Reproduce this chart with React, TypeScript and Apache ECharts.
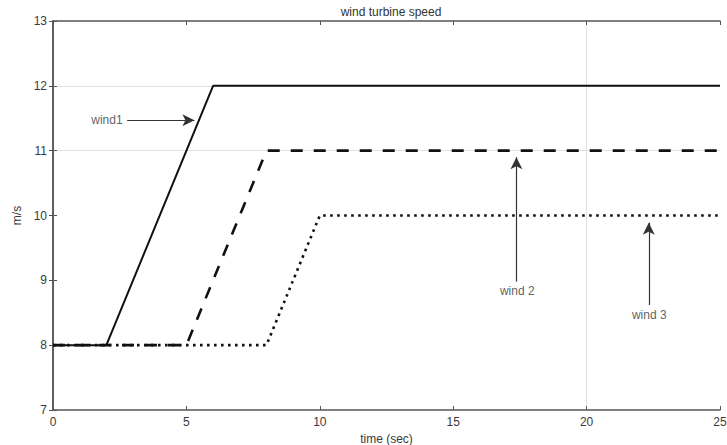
import React, { useEffect, useRef } from "react";
import * as echarts from "echarts";

const xTicks = [0, 5, 10, 15, 20, 25];
const yTicks = [7, 8, 9, 10, 11, 12, 13];

const timeWind1 = [0, 2, 6, 25];
const speedWind1 = [8, 8, 12, 12];
const timeWind2 = [0, 5, 8, 25];
const speedWind2 = [8, 8, 11, 11];
const timeWind3 = [0, 8, 10, 25];
const speedWind3 = [8, 8, 10, 10];

const gridYValues = [11, 12];
const gridXValues = [20];

const annotationNames = ["wind1", "wind 2", "wind 3"];
const annotationTextX = [2.02, 17.4, 22.35];
const annotationTextY = [11.47, 8.83, 8.46];
const arrowStartX = [2.78, 17.37, 22.33];
const arrowStartY = [11.47, 8.98, 8.62];
const arrowEndX = [5.3, 17.37, 22.33];
const arrowEndY = [11.47, 10.9, 9.89];

const zip = (xs: number[], ys: number[]) => xs.map((x, i) => [x, ys[i]]);

const FONT = "Liberation Sans, Arial, sans-serif";
const GRID_COLOR = "#e2e2e2";
const CLEAR = "rgba(0,0,0,0)";

export default function App() {
  const ref = useRef<HTMLDivElement>(null);
  useEffect(() => {
    if (!ref.current) return;
    const chart = echarts.init(ref.current, undefined, { renderer: "svg" });
    const axisColor = "#555";
    const labelStyle = { color: "#3a3a3a", fontSize: 12, fontFamily: FONT };
    const xSplitColors = xTicks.map((t) => (gridXValues.includes(t) ? GRID_COLOR : CLEAR));
    const ySplitColors = yTicks.map((t) => (gridYValues.includes(t) ? GRID_COLOR : CLEAR));
    chart.setOption({
      animation: false,
      backgroundColor: "#fff",
      title: {
        text: "wind turbine speed",
        left: 386,
        top: 1,
        textAlign: "center",
        textStyle: { fontSize: 12, fontWeight: "normal", color: "#333", fontFamily: FONT },
      },
      grid: { left: 53, right: 7, top: 21, bottom: 35, show: false, outerBoundsMode: "none", containLabel: false },
      xAxis: [
        {
          type: "value",
          min: xTicks[0],
          max: xTicks[xTicks.length - 1],
          interval: 5,
          position: "bottom",
          name: "time (sec)",
          nameLocation: "middle",
          nameGap: 20,
          nameTextStyle: { ...labelStyle },
          axisLine: { show: true, lineStyle: { color: axisColor, width: 1.5 } },
          axisTick: { show: true, inside: true, length: 4, lineStyle: { color: axisColor } },
          axisLabel: { ...labelStyle, margin: 6 },
          splitLine: { show: true, lineStyle: { color: xSplitColors, width: 1 } },
        },
        {
          type: "value",
          min: xTicks[0],
          max: xTicks[xTicks.length - 1],
          interval: 5,
          position: "top",
          axisLine: { show: true, lineStyle: { color: axisColor, width: 1.5 } },
          axisTick: { show: true, inside: true, length: 4, lineStyle: { color: axisColor } },
          axisLabel: { show: false },
          splitLine: { show: false },
        },
      ],
      yAxis: [
        {
          type: "value",
          min: yTicks[0],
          max: yTicks[yTicks.length - 1],
          interval: 1,
          position: "left",
          name: "m/s",
          nameLocation: "middle",
          nameGap: 30,
          nameTextStyle: { ...labelStyle },
          axisLine: { show: true, lineStyle: { color: axisColor, width: 1.5 } },
          axisTick: { show: true, inside: true, length: 4, lineStyle: { color: axisColor } },
          axisLabel: { ...labelStyle, margin: 6 },
          splitLine: { show: true, lineStyle: { color: ySplitColors, width: 1 } },
        },
        {
          type: "value",
          min: yTicks[0],
          max: yTicks[yTicks.length - 1],
          interval: 1,
          position: "right",
          axisLine: { show: true, lineStyle: { color: axisColor, width: 1.5 } },
          axisTick: { show: true, inside: true, length: 4, lineStyle: { color: axisColor } },
          axisLabel: { show: false },
          splitLine: { show: false },
        },
      ],
      series: [
        {
          type: "line",
          name: "wind3",
          z: 3,
          data: zip(timeWind3, speedWind3),
          showSymbol: false,
          symbol: "none",
          lineStyle: { color: "#111", width: 2.6, type: [2.6, 4.4], cap: "butt" },
        },
        {
          type: "line",
          name: "wind2",
          z: 4,
          data: zip(timeWind2, speedWind2),
          showSymbol: false,
          symbol: "none",
          lineStyle: { color: "#111", width: 2.6, type: [12, 11], cap: "butt" },
        },
        {
          type: "line",
          name: "wind1",
          z: 5,
          data: zip(timeWind1, speedWind1),
          showSymbol: false,
          symbol: "none",
          lineStyle: { color: "#111", width: 2 },
        },
        {
          type: "scatter",
          name: "annotations",
          z: 6,
          symbolSize: 0,
          silent: true,
          data: annotationNames.map((n, i) => [annotationTextX[i], annotationTextY[i], n]),
          label: {
            show: true,
            position: "inside",
            formatter: (p: any) => p.value[2],
            color: "#333",
            fontSize: 12,
            fontFamily: FONT,
          },
          markLine: {
            silent: true,
            symbol: ["none", "arrow"],
            symbolSize: [9, 12],
            label: { show: false },
            lineStyle: { color: "#333", type: "solid", width: 1.2 },
            data: annotationNames.map((_, i) => [
              { coord: [arrowStartX[i], arrowStartY[i]] },
              { coord: [arrowEndX[i], arrowEndY[i]] },
            ]),
          },
        },
      ],
    });
    return () => chart.dispose();
  }, []);
  return (
    <div
      ref={ref}
      style={{ position: "fixed", left: 0, top: 0, width: 727, height: 445 }}
    />
  );
}
